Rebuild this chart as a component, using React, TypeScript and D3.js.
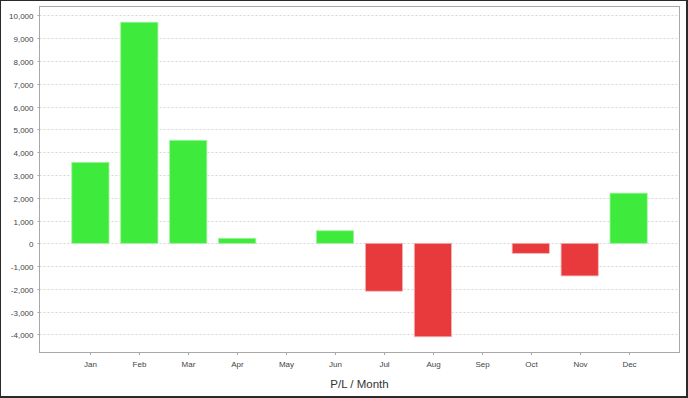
import React from "react";
import * as d3 from "d3";

const months = ["Jan", "Feb", "Mar", "Apr", "May", "Jun", "Jul", "Aug", "Sep", "Oct", "Nov", "Dec"];
const profitLoss = [3550, 9700, 4520, 220, 0, 550, -2100, -4100, 0, -440, -1430, 2200];
const yTickValues = [-4000, -3000, -2000, -1000, 0, 1000, 2000, 3000, 4000, 5000, 6000, 7000, 8000, 9000, 10000];
const xAxisTitle = "P/L / Month";

const W = 688;
const H = 398;
const plot = { left: 39.5, right: 679.5, top: 6.5, bottom: 352.5 };

const fmt = d3.formatLocale({ decimal: ".", thousands: ",", grouping: [3], currency: ["$", ""], minus: "-" }).format(",");

export default function App() {
  const minV = d3.min(profitLoss) as number;
  const maxV = d3.max(profitLoss) as number;
  const margin = (maxV - minV) * 0.05;
  const y = d3.scaleLinear().domain([minV - margin, maxV + margin]).range([plot.bottom, plot.top]);
  const x = d3
    .scaleBand<string>()
    .domain(months)
    .range([plot.left, plot.right])
    .paddingInner(0.24)
    .paddingOuter(0.66);
  const font = "'Liberation Sans', Arial, sans-serif";
  const y0 = y(0);

  return (
    <svg
      width={W}
      height={H}
      style={{ position: "absolute", left: 0, top: 0, background: "#fff" }}
      xmlns="http://www.w3.org/2000/svg"
    >
      <rect x={0} y={0} width={W} height={H} fill="#fff" />
      {/* grid */}
      {yTickValues.map((t) => (
        <line
          key={"g" + t}
          x1={plot.left}
          x2={plot.right}
          y1={Math.round(y(t)) + 0.5}
          y2={Math.round(y(t)) + 0.5}
          stroke="#d6d6d6"
          strokeWidth={1}
          strokeDasharray="2,2"
        />
      ))}
      {/* bars */}
      {profitLoss.map((v, i) => {
        if (v === 0) return null;
        const bx = x(months[i]) as number;
        const top = Math.min(y(v), y0);
        const h = Math.abs(y(v) - y0);
        const pos = v >= 0;
        return (
          <rect
            key={"b" + i}
            x={bx}
            y={top}
            width={x.bandwidth()}
            height={h}
            fill={pos ? "#3eea3c" : "#e8393c"}
            stroke={pos ? "#9ef29c" : "#f2b4b4"}
            strokeWidth={0.8}
          />
        );
      })}
      {/* plot outline */}
      <rect
        x={plot.left}
        y={plot.top}
        width={plot.right - plot.left}
        height={plot.bottom - plot.top}
        fill="none"
        stroke="#a8a8a8"
        strokeWidth={1}
      />
      {/* y ticks */}
      {yTickValues.map((t) => {
        const ty = Math.round(y(t)) + 0.5;
        return (
          <g key={"yt" + t}>
            <line x1={plot.left - 2} x2={plot.left} y1={ty} y2={ty} stroke="#a8a8a8" />
            <text
              x={33.5}
              y={ty + 3}
              textAnchor="end"
              fontFamily={font}
              fontSize={8}
              fill="#444"
            >
              {fmt(t)}
            </text>
          </g>
        );
      })}
      {/* x ticks */}
      {months.map((m) => {
        const cx = Math.round((x(m) as number) + x.bandwidth() / 2) + 0.5;
        return (
          <g key={"xt" + m}>
            <line x1={cx} x2={cx} y1={plot.bottom} y2={plot.bottom + 2.5} stroke="#a8a8a8" />
            <text x={cx} y={367} textAnchor="middle" fontFamily={font} fontSize={8} fill="#444">
              {m}
            </text>
          </g>
        );
      })}
      <text
        x={(plot.left + plot.right) / 2}
        y={388}
        textAnchor="middle"
        fontFamily={font}
        fontSize={11.5}
        fill="#333"
      >
        {xAxisTitle}
      </text>
      {/* outer border */}
      <rect x={0} y={0} width={W - 1} height={H - 1} fill="none" stroke="#2a2a2a" strokeWidth={2} />
    </svg>
  );
}
